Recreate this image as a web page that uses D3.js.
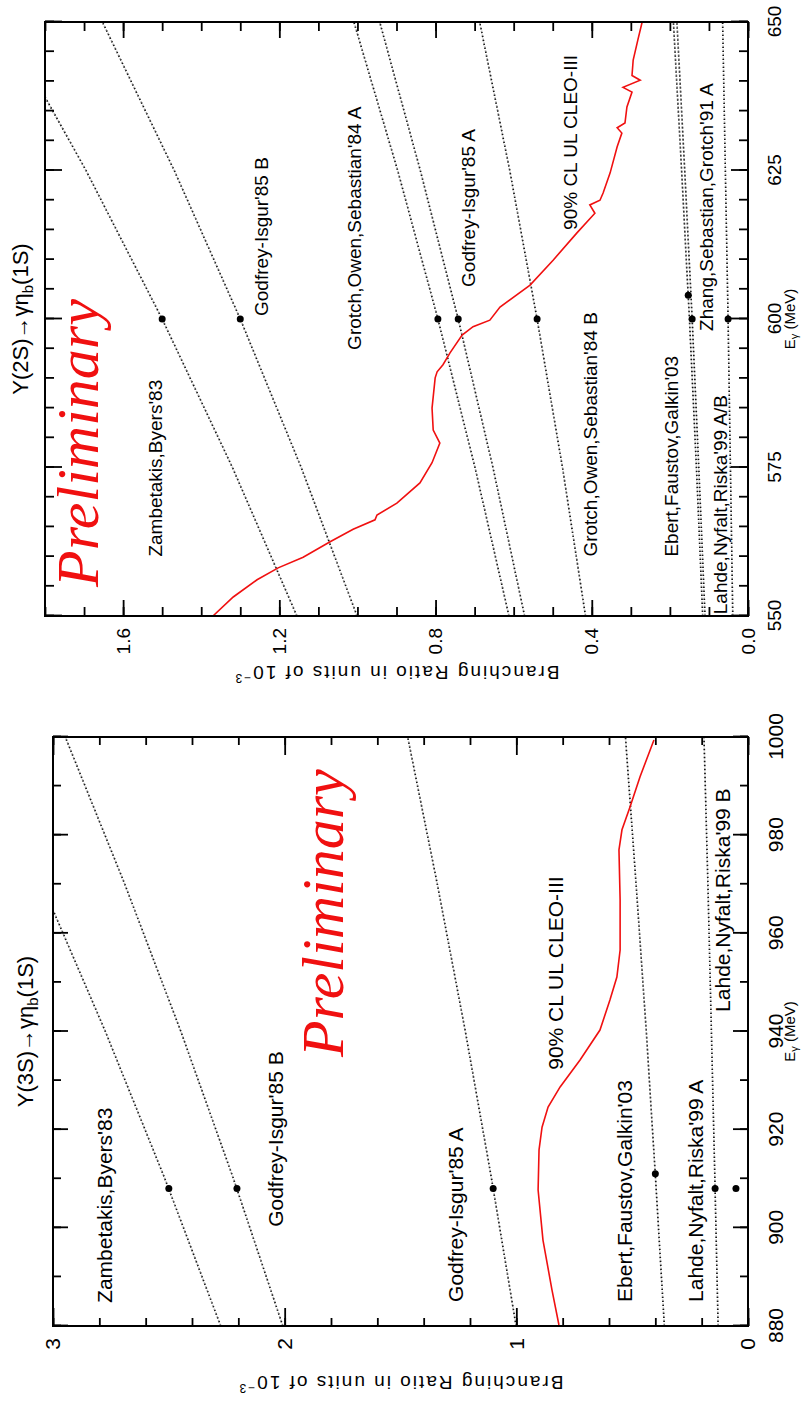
<!DOCTYPE html>
<html>
<head>
<meta charset="utf-8">
<script src="https://cdn.jsdelivr.net/npm/d3@7"></script>
<style>
  body { margin: 0; background: #fff; }
  text { font-family: "Liberation Sans", Arial, sans-serif; }
</style>
</head>
<body>
<svg id="chart" width="803" height="1406"></svg>
<script>
// ---------- Y(2S) -> gamma eta_b(1S) ----------
const energies2S = [550, 575, 600, 625, 650];
const zambetakis2S = [1.155, 1.320, 1.500, 1.695, 1.907];
const godfreyB2S = [1.001, 1.144, 1.300, 1.469, 1.653];
const grotchA2S = [0.612, 0.699, 0.794, 0.897, 1.009];
const godfreyA2S = [0.572, 0.653, 0.742, 0.839, 0.943];
const grotchB2S = [0.416, 0.475, 0.540, 0.610, 0.687];
const ebert2S = [0.116, 0.132, 0.150, 0.170, 0.191];
const zhang2S = [0.110, 0.126, 0.143, 0.162, 0.182];
const lahde2S = [0.039, 0.045, 0.051, 0.058, 0.065];

const dotE2S = [600, 600, 600, 600, 600, 604, 600, 600];
const dotBR2S = [1.50, 1.30, 0.794, 0.742, 0.540, 0.153, 0.143, 0.051];

const ulE2S = [550, 553.2, 556.1, 558.1, 559.9, 562.5, 564.6, 566.2, 567, 569.0, 572.4, 575.8,
  579.1, 581.3, 585.0, 590.1, 591.1, 592.3, 594.3, 597.3, 598.7, 599.8, 602.0, 605.7, 609.9,
  614.5, 617.8, 619.2, 620.0, 621.2, 624.6, 629.0, 631.3, 632.2, 633.0, 635.7, 638.2, 639.0,
  640.2, 641.0, 643.6, 647.0, 650];
const ulBR2S = [1.370, 1.318, 1.257, 1.203, 1.139, 1.070, 1.011, 0.955, 0.950, 0.899, 0.840, 0.809,
  0.789, 0.806, 0.809, 0.801, 0.796, 0.781, 0.763, 0.732, 0.704, 0.661, 0.635, 0.558, 0.499,
  0.438, 0.392, 0.405, 0.379, 0.371, 0.353, 0.335, 0.323, 0.335, 0.315, 0.310, 0.297, 0.320,
  0.276, 0.297, 0.294, 0.282, 0.271];

const labels2S = ["Zambetakis,Byers'83", "Godfrey-Isgur'85 B", "Grotch,Owen,Sebastian'84 A",
  "Godfrey-Isgur'85 A", "90% CL UL CLEO-III", "Grotch,Owen,Sebastian'84 B",
  "Ebert,Faustov,Galkin'03", "Zhang,Sebastian,Grotch'91 A", "Lahde,Nyfalt,Riska'99 A/B"];
const labelE2S = [560, 600.5, 594.8, 605.4, 615, 560, 560, 598, 550.3];
const labelBR2S = [1.50, 1.23, 0.99, 0.699, 0.438, 0.387, 0.179, 0.09, 0.054];

const eTicks2S = [550, 575, 600, 625, 650];
const brTicks2S = [0.0, 0.4, 0.8, 1.2, 1.6];

// ---------- Y(3S) -> gamma eta_b(1S) ----------
const energies3S = [880, 910, 940, 970, 1000];
const zambetakis3S = [2.276, 2.517, 2.774, 3.048, 3.340];
const godfreyB3S = [2.008, 2.221, 2.448, 2.690, 2.947];
const godfreyA3S = [1.001, 1.107, 1.220, 1.341, 1.469];
const ebert3S = [0.361, 0.399, 0.439, 0.483, 0.529];
const lahdeA3S = [0.129, 0.143, 0.158, 0.173, 0.190];

const dotE3S = [908, 908, 908, 911, 908, 908];
const dotBR3S = [2.50, 2.206, 1.10, 0.40, 0.142, 0.052];

const ulE3S = [880.2, 887.3, 897.5, 907.7, 915.9, 920.5, 924.6, 928.7, 934.2, 940.3, 946.4,
  951.1, 956.6, 966.8, 977.0, 981.1, 985.8, 991.9, 999.4];
const ulBR3S = [0.816, 0.846, 0.885, 0.906, 0.902, 0.889, 0.863, 0.811, 0.725, 0.639, 0.596,
  0.566, 0.552, 0.552, 0.557, 0.544, 0.509, 0.466, 0.406];

const labels3S = ["Zambetakis,Byers'83", "Godfrey-Isgur'85 B", "Godfrey-Isgur'85 A",
  "90% CL UL CLEO-III", "Ebert,Faustov,Galkin'03", "Lahde,Nyfalt,Riska'99 A",
  "Lahde,Nyfalt,Riska'99 B"];
const labelE3S = [884.7, 900.2, 884.9, 932.2, 884.9, 884.9, 944];
const labelBR3S = [2.745, 2.007, 1.23, 0.80, 0.50, 0.194, 0.078];

const eTicks3S = [880, 900, 920, 940, 960, 980, 1000];
const brTicks3S = [0, 1, 2, 3];

// ---------- layout ----------
const panels = [
  {
    id: "2S", state: "2S",
    frame: { left: 45, top: 22, right: 748, bottom: 616 },
    eDomain: [550, 650], brDomain: [0, 1.8],
    energies: energies2S,
    curves: [zambetakis2S, godfreyB2S, grotchA2S, godfreyA2S, grotchB2S, ebert2S, zhang2S, lahde2S],
    dotE: dotE2S, dotBR: dotBR2S, ulE: ulE2S, ulBR: ulBR2S,
    labels: labels2S, labelE: labelE2S, labelBR: labelBR2S,
    eTicks: eTicks2S, eMinor: d3.range(0, 21).map(i => 550 + i * 5),
    brTicks: brTicks2S, brMinor: d3.range(0, 19).map(i => i * 0.1),
    brFormat: d3.format(".1f"),
    eTick: [17, 9], brTick: [16, 9],
    fs: 19, titleY: -17, prelim: [554.9, 1.664]
  },
  {
    id: "3S", state: "3S",
    frame: { left: 53, top: 737, right: 748, bottom: 1326 },
    eDomain: [880, 1000], brDomain: [0, 3],
    energies: energies3S,
    curves: [zambetakis3S, godfreyB3S, godfreyA3S, ebert3S, lahdeA3S],
    dotE: dotE3S, dotBR: dotBR3S, ulE: ulE3S, ulBR: ulBR3S,
    labels: labels3S, labelE: labelE3S, labelBR: labelBR3S,
    eTicks: eTicks3S, eMinor: d3.range(0, 13).map(i => 880 + i * 10),
    brTicks: brTicks3S, brMinor: d3.range(0, 16).map(i => i * 0.2),
    brFormat: d3.format("d"),
    eTick: [15, 8], brTick: [18, 8],
    fs: 21, titleY: -20, prelim: [934.8, 1.75]
  }
];

const svg = d3.select("#chart");

function addAxis(g, axis, transform, size, values, fmt, pad) {
  const a = g.append("g")
    .attr("transform", transform)
    .call(axis.tickValues(values).tickSize(-size).tickPadding(pad).tickFormat(fmt));
  a.select(".domain").remove();
  a.selectAll("line").attr("stroke", "#000").attr("stroke-width", 1.8);
  return a;
}

function drawPanel(p) {
  const W = p.frame.bottom - p.frame.top;
  const H = p.frame.right - p.frame.left;

  // the chart is drawn upright, then turned a quarter turn
  const g = svg.append("g")
    .attr("transform", `translate(${p.frame.left},${p.frame.bottom}) rotate(-90)`);

  const x = d3.scaleLinear().domain(p.eDomain).range([0, W]);
  const y = d3.scaleLinear().domain(p.brDomain).range([H, 0]);

  g.append("clipPath").attr("id", "clip" + p.id)
    .append("rect").attr("width", W).attr("height", H);
  const plot = g.append("g").attr("clip-path", `url(#clip${p.id})`);

  const line = d3.line().x(d => x(d[0])).y(d => y(d[1]));

  p.curves.forEach(c => {
    const pts = p.energies.map((e, i) => [e, c[i]]);
    plot.append("path")
      .attr("d", line(pts))
      .attr("fill", "none")
      .attr("stroke", "#aaa")
      .attr("stroke-width", 1.6)
      .attr("stroke-dasharray", "2.5,1.5");
    plot.append("path")
      .attr("d", line(pts))
      .attr("fill", "none")
      .attr("stroke", "#111")
      .attr("stroke-width", 1.6)
      .attr("stroke-dasharray", "1.2,2.8");
  });

  plot.append("path")
    .attr("d", line(p.ulE.map((e, i) => [e, p.ulBR[i]])))
    .attr("fill", "none")
    .attr("stroke", "#f01010")
    .attr("stroke-width", 1.6);

  plot.selectAll("circle.dot")
    .data(p.dotE.map((e, i) => [e, p.dotBR[i]]))
    .join("circle")
    .attr("class", "dot")
    .attr("cx", d => x(d[0]))
    .attr("cy", d => y(d[1]))
    .attr("r", 3.5)
    .attr("fill", "#000");

  g.selectAll("text.lbl")
    .data(p.labels.map((t, i) => ({ t, e: p.labelE[i], br: p.labelBR[i] })))
    .join("text")
    .attr("class", "lbl")
    .attr("x", d => x(d.e))
    .attr("y", d => y(d.br))
    .attr("font-size", p.fs)
    .text(d => d.t);

  g.append("text")
    .attr("x", x(p.prelim[0]))
    .attr("y", y(p.prelim[1]))
    .style("font-family", "'Liberation Serif', 'Times New Roman', serif")
    .attr("font-style", "italic")
    .attr("font-size", 60)
    .attr("fill", "#f01010")
    .text("Preliminary");

  // axes: E along the bottom/top, BR along left/right, ticks inward
  const blank = () => "";
  addAxis(g, d3.axisBottom(x), `translate(0,${H})`, p.eTick[1], p.eMinor, blank, 0);
  addAxis(g, d3.axisTop(x), "translate(0,0)", p.eTick[1], p.eMinor, blank, 0);
  const eb = addAxis(g, d3.axisBottom(x), `translate(0,${H})`, p.eTick[0], p.eTicks, d3.format("d"), 20);
  addAxis(g, d3.axisTop(x), "translate(0,0)", p.eTick[0], p.eTicks, blank, 0);
  eb.selectAll("text").attr("font-size", p.fs).attr("fill", "#000");

  addAxis(g, d3.axisLeft(y), "translate(0,0)", p.brTick[1], p.brMinor, blank, 0);
  addAxis(g, d3.axisRight(y), `translate(${W},0)`, p.brTick[1], p.brMinor, blank, 0);
  const yl = addAxis(g, d3.axisLeft(y), "translate(0,0)", p.brTick[0], p.brTicks, p.brFormat, 12);
  addAxis(g, d3.axisRight(y), `translate(${W},0)`, p.brTick[0], p.brTicks, blank, 0);
  yl.selectAll("text").attr("font-size", p.fs).attr("fill", "#000");

  g.append("rect")
    .attr("width", W).attr("height", H)
    .attr("fill", "none").attr("stroke", "#000").attr("stroke-width", 2);

  const title = g.append("text")
    .attr("x", W / 2).attr("y", p.titleY)
    .attr("text-anchor", "middle")
    .attr("font-size", 22);
  title.append("tspan").text(`\u03A5(${p.state})\u2192\u03B3\u03B7`);
  title.append("tspan").attr("dy", 5).attr("font-size", 15).text("b");
  title.append("tspan").attr("dy", -5).text("(1S)");

  // E axis title sits just inside the page edge
  const ex = g.append("text")
    .attr("x", W / 2).attr("y", H + 47)
    .attr("text-anchor", "middle")
    .attr("font-size", 15);
  ex.append("tspan").text("E");
  ex.append("tspan").attr("dy", 3).attr("font-size", 11).text("\u03B3");
  ex.append("tspan").attr("dy", -3).text(" (MeV)");

  const yt = g.append("text")
    .attr("transform", `translate(-50,${H / 2}) rotate(-90)`)
    .attr("text-anchor", "middle")
    .attr("font-size", 19)
    .attr("letter-spacing", 2);
  yt.append("tspan").text("Branching Ratio in units of 10");
  yt.append("tspan").attr("dy", -8).attr("font-size", 12).text("\u22123");
}

panels.forEach(drawPanel);
</script>
</body>
</html>
